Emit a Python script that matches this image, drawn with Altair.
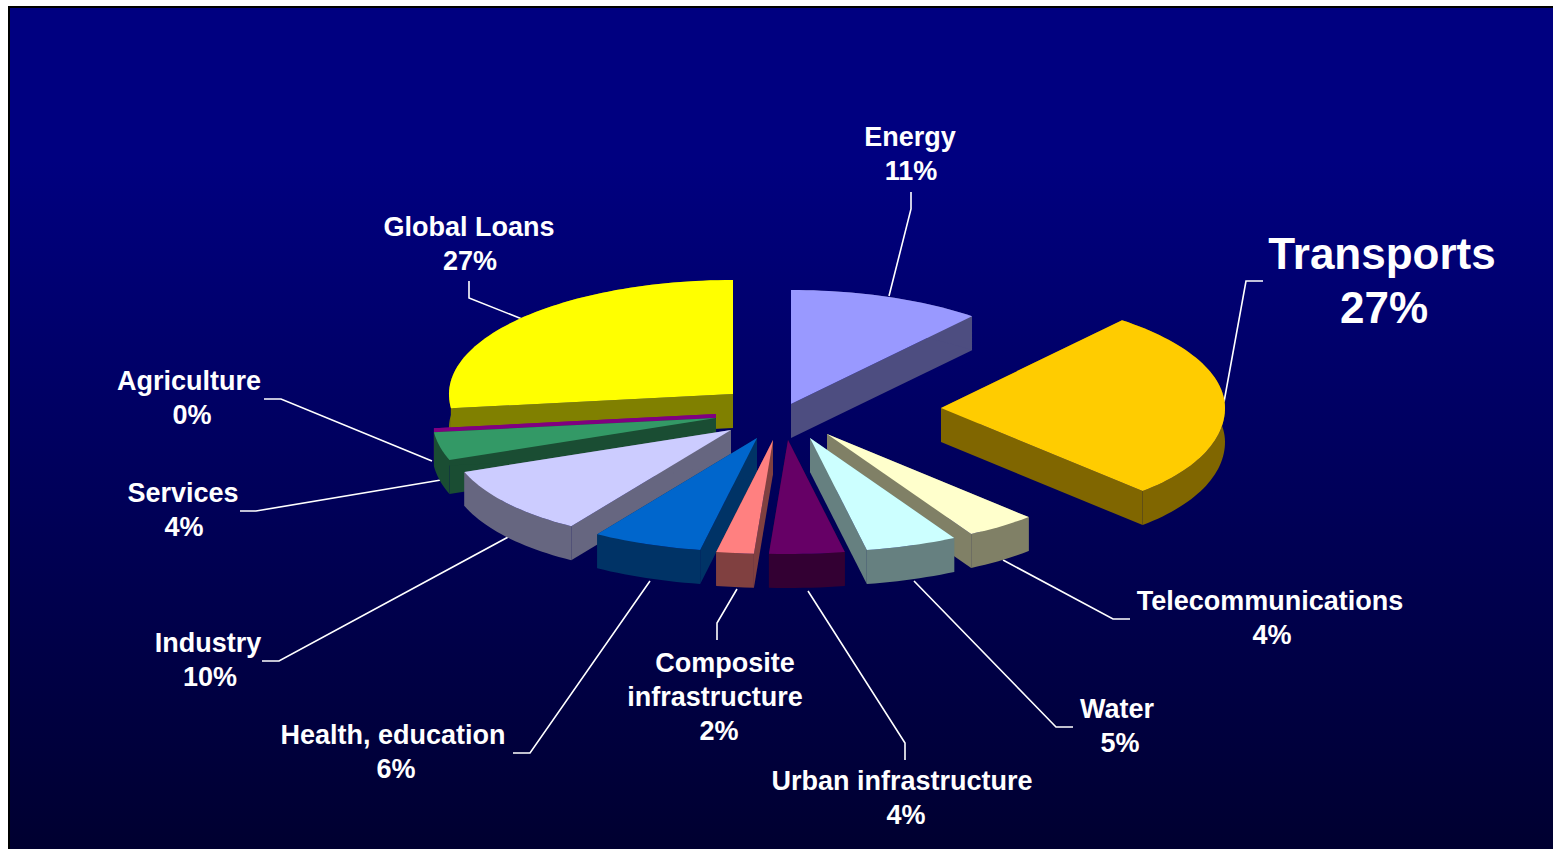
import math
import altair as alt

# Lending shares by sector, clockwise from twelve o'clock
sectors = ["Energy", "Transports", "Telecommunications", "Water", "Urban infrastructure",
           "Composite infrastructure", "Health, education", "Industry", "Services",
           "Agriculture", "Global Loans"]
shares = [11, 27, 4, 5, 4, 2, 6, 10, 4, 0, 27]

# Top-face and side-face colours per sector
top_colors = ["#9999FF", "#FFCC00", "#FFFFCC", "#CCFFFF", "#660066", "#FF8080",
              "#0066CC", "#CCCCFF", "#339966", "#800080", "#FFFF00"]
side_colors = ["#4D4D80", "#806600", "#808066", "#668080", "#330033", "#804040",
               "#003366", "#666680", "#1A4D33", "#800080", "#808000"]

# Where each exploded slice's tip sits on the canvas
tips = [(791, 404), (941, 408), (827, 434), (810, 438), (788, 440), (773, 440),
        (757, 438), (731, 430), (716, 418), (716, 414), (733, 394)]

# Back-to-front drawing order (indices into sectors)
draw_order = [10, 9, 8, 0, 1, 7, 6, 5, 4, 2, 3]

RX, RY, DEPTH = 284, 114, 34
NEAR_GAIN = 0.07  # the near half of the pie reads slightly wider in perspective
W, H = 1553, 849


def feature(coords, fill):
    ring = [list(p) for p in coords] + [list(coords[0])]
    return {"type": "Feature", "properties": {"fill": fill},
            "geometry": {"type": "Polygon", "coordinates": [ring]}}


def line_feature(coords):
    return {"type": "Feature", "properties": {},
            "geometry": {"type": "LineString", "coordinates": [list(p) for p in coords]}}


def drop(p):
    return (p[0], p[1] + DEPTH)


def rim_point(tip, degrees):
    a = math.radians(degrees)
    c = math.cos(a)
    gain = 1 + NEAR_GAIN * (c * c if c < 0 else 0.0)
    return (tip[0] + RX * gain * math.sin(a), tip[1] - RY * c)


# Turn the shares into angles, then into tilted, extruded wedges
starts = []
running = 0.0
for s in shares:
    starts.append(running)
    running += s / sum(shares) * 360

wedges = []
for i in draw_order:
    tip = tips[i]
    sweep = shares[i] / sum(shares) * 360
    steps = max(1, int(sweep / 1.5))
    arc = [rim_point(tip, starts[i] + sweep * k / steps) for k in range(steps + 1)]
    wedges.append(feature([tip, arc[0], drop(arc[0]), drop(tip)], side_colors[i]))
    wedges.append(feature([tip, arc[-1], drop(arc[-1]), drop(tip)], side_colors[i]))
    if sweep > 0:
        wedges.append(feature(arc + [drop(p) for p in reversed(arc)], side_colors[i]))
        wedges.append(feature([tip] + arc, top_colors[i]))

# Callout polylines from each slice to its label
leaders = [
    [(889, 296), (911, 209), (911, 192)],
    [(1224, 402), (1246, 281), (1263, 281)],
    [(1003, 560), (1113, 619), (1130, 619)],
    [(914, 581), (1056, 727), (1073, 727)],
    [(808, 591), (905, 743), (905, 760)],
    [(737, 589), (717, 623), (717, 640)],
    [(650, 581), (530, 753), (513, 753)],
    [(510, 536), (279, 661), (262, 661)],
    [(441, 480), (256, 511), (240, 511)],
    [(432, 461), (281, 399), (264, 399)],
    [(522, 319), (469, 298), (469, 281)],
]


def pct(i):
    return f"{shares[i]}%"


# Label lines: text pieces with their anchor centres
label_rows = [
    ("Energy", 910, 138, 27), (pct(0), 911, 172, 27),
    ("Transports", 1382, 256, 44), (pct(1), 1384, 310, 44),
    ("Telecommunications", 1270, 602, 27), (pct(2), 1272, 636, 27),
    ("Water", 1117, 710, 27), (pct(3), 1120, 744, 27),
    ("Urban infrastructure", 902, 782, 27), (pct(4), 906, 816, 27),
    ("Composite", 725, 664, 27), ("infrastructure", 715, 698, 27), (pct(5), 719, 732, 27),
    ("Health, education", 393, 736, 27), (pct(6), 396, 770, 27),
    ("Industry", 208, 644, 27), (pct(7), 210, 678, 27),
    ("Services", 183, 494, 27), (pct(8), 184, 528, 27),
    ("Agriculture", 189, 382, 27), (pct(9), 192, 416, 27),
    ("Global Loans", 469, 228, 27), (pct(10), 470, 262, 27),
]
labels = [{"text": t, "x": x, "y": y, "size": s} for t, x, y, s in label_rows]

frame = (
    alt.Chart(alt.Data(values=[feature([(8, 6), (W, 6), (W, H), (8, H)], "#000000")]))
    .mark_geoshape(strokeWidth=0, fill="#000000")
    .project(type="identity", scale=1, translate=[0, 0])
)
backdrop = (
    alt.Chart(alt.Data(values=[feature([(10, 8), (W, 8), (W, H), (10, H)], "#000080")]))
    .mark_geoshape(
        strokeWidth=0,
        fill=alt.Gradient(
            gradient="linear", x1=0, y1=0, x2=0, y2=1,
            stops=[alt.GradientStop(color="#000080", offset=0),
                   alt.GradientStop(color="#000080", offset=0.18),
                   alt.GradientStop(color="#000030", offset=1)],
        ),
    )
    .project(type="identity", scale=1, translate=[0, 0])
)
leader_layer = (
    alt.Chart(alt.Data(values=[line_feature(c) for c in leaders]))
    .mark_geoshape(filled=False, stroke="#FFFFFF", strokeWidth=1.6)
    .project(type="identity", scale=1, translate=[0, 0])
)
wedge_layer = (
    alt.Chart(alt.Data(values=wedges))
    .mark_geoshape(strokeWidth=0)
    .encode(fill=alt.Fill("properties.fill:N", scale=None, legend=None))
    .project(type="identity", scale=1, translate=[0, 0])
)
text_layer = (
    alt.Chart(alt.Data(values=labels))
    .mark_text(font="Liberation Sans", fontWeight="bold", color="#FFFFFF",
               align="center", baseline="middle")
    .encode(
        longitude="x:Q",
        latitude="y:Q",
        text="text:N",
        size=alt.Size("size:Q", scale=None, legend=None),
    )
    .project(type="identity", scale=1, translate=[0, 0])
)

chart = alt.layer(frame, backdrop, leader_layer, wedge_layer, text_layer).properties(
    width=W, height=H, padding=0, autosize=alt.AutoSizeParams(type="none"),
    background="#FFFFFF",
).configure_view(strokeWidth=0)

chart.save("out.html", embed_options={"renderer": "svg", "actions": False})
